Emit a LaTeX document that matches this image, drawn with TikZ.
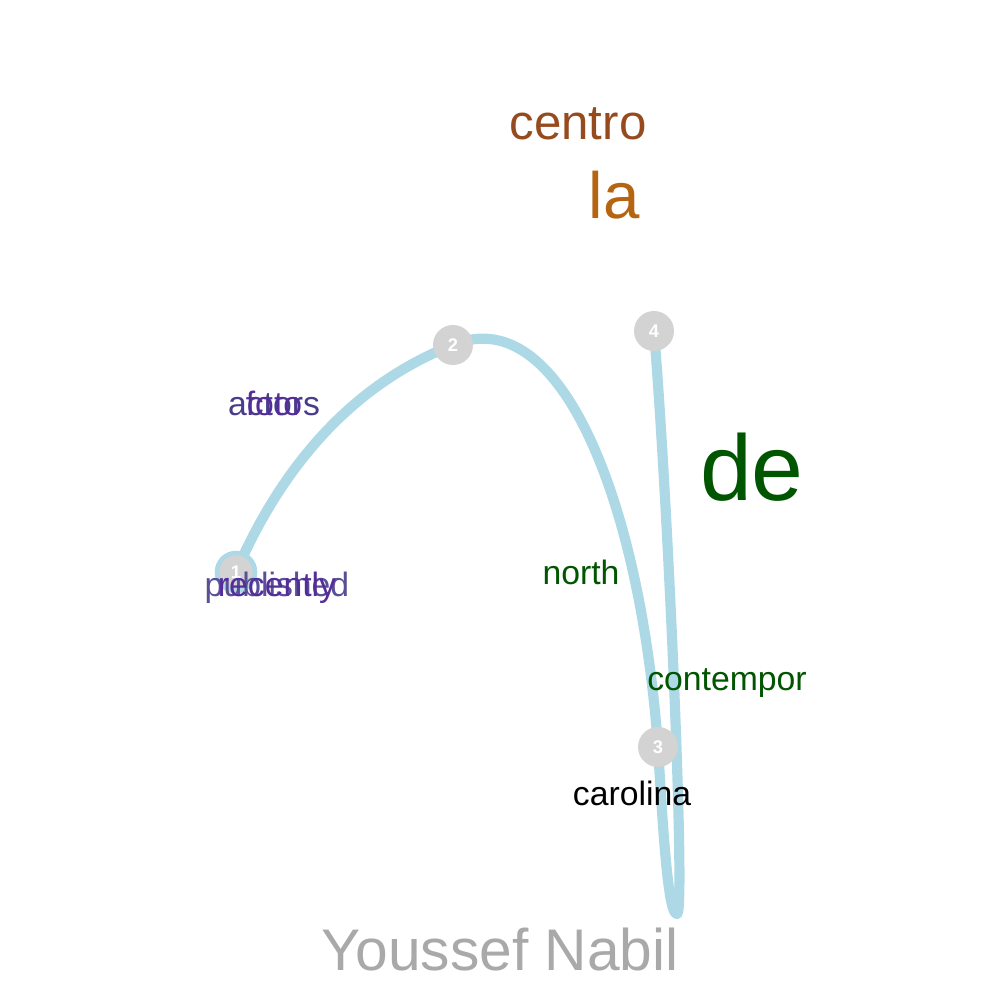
\documentclass[tikz,border=0pt]{standalone}
\usepackage{fontspec}
\setmainfont{Liberation Sans}
\begin{document}
\begin{tikzpicture}[x=0.01cm,y=-0.01cm]
\definecolor{edgeblue}{RGB}{173,216,230}
\definecolor{nodegray}{RGB}{211,211,211}
\definecolor{dgreen}{RGB}{0,85,0}
\definecolor{brownA}{RGB}{150,75,30}
\definecolor{brownB}{RGB}{181,101,18}
\definecolor{slateA}{RGB}{72,61,139}
\definecolor{violetA}{RGB}{85,45,155}
\definecolor{slateB}{RGB}{88,80,150}
\definecolor{titlegray}{RGB}{169,169,169}
\tikzset{
  vert/.style={circle,fill=nodegray,minimum size=0.4cm,inner sep=0pt,text=white,font=\fontsize{5.2pt}{6pt}\selectfont\bfseries},
  lbl/.style={anchor=base,inner sep=0pt},
  small/.style={lbl,font=\fontsize{9.6pt}{11pt}\selectfont},
  link/.style={draw=edgeblue,line width=2.9pt,line cap=round,line join=round}
}
\useasboundingbox (0,0) rectangle (1000,1000);
% vertices positions
\coordinate (p1) at (236,572);
\coordinate (p2) at (453,345);
\coordinate (p3) at (658,747);
\coordinate (p4) at (654,331);
\coordinate (tip) at (677,914);
% edge path
\path[link] (p1) .. controls (280,470) and (350,385) .. (p2)
  .. controls (560,300) and (640,500) .. (p3)
  .. controls (663,830) and (668,915) .. (tip)
  .. controls (686,916) and (668,500) .. (p4);
% vertices
\node[vert,draw=edgeblue,line width=1.3pt,minimum size=0.38cm] (n1) at (p1) {1};
\node[vert] (n2) at (p2) {2};
\node[vert] (n3) at (p3) {3};
\node[vert] (n4) at (p4) {4};
% labels
\node[lbl,text=brownA,font=\fontsize{14pt}{16pt}\selectfont] (centro) at (578,139) {centro};
\node[lbl,text=brownB,font=\fontsize{18.6pt}{21pt}\selectfont] (la) at (614,218) {la};
\node[lbl,text=dgreen,font=\fontsize{26.5pt}{30pt}\selectfont] (de) at (752,500) {de};
\node[small,text=dgreen] (north) at (581,584) {north};
\node[small,text=dgreen] (contempor) at (727,690) {contempor};
\node[small,text=black] (carolina) at (632,805) {carolina};
\node[small,text=slateA] (actors) at (274,415) {actors};
\node[small,text=violetA] (foto) at (274,415) {foto};
\node[small,text=slateB] (published) at (277,596) {published};
\node[small,text=violetA] (recently) at (277,596) {recently};
\node[lbl,text=titlegray,font=\fontsize{16.7pt}{19pt}\selectfont] (title) at (500,970) {Youssef Nabil};
\end{tikzpicture}
\end{document}
